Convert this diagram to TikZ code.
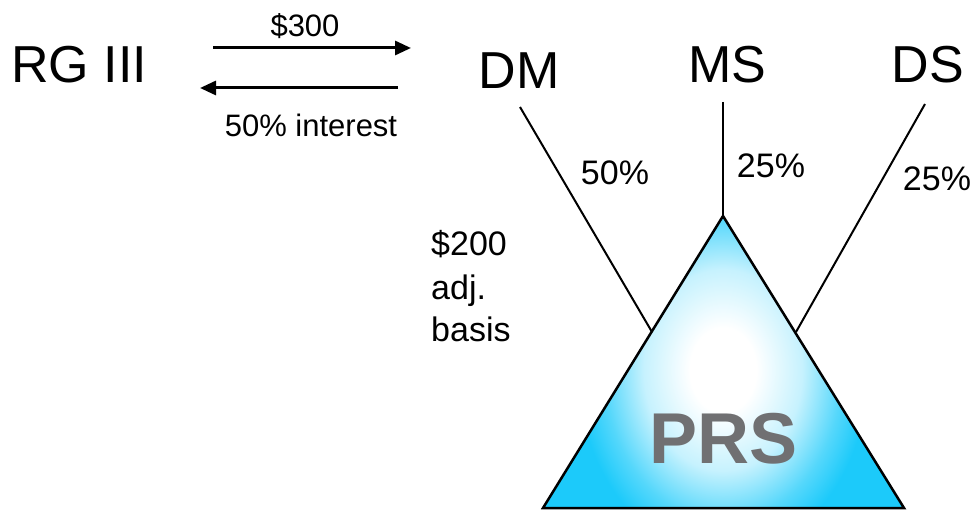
\documentclass[tikz,border=0pt]{standalone}
\usepackage{fontspec}
\setmainfont{Liberation Sans}
\usetikzlibrary{arrows.meta}
\definecolor{prscyan}{RGB}{28,202,250}
\definecolor{prsgray}{RGB}{112,112,114}
\pgfdeclareradialshading{prsglow}{\pgfpoint{0bp}{0bp}}{color(0bp)=(white); color(5bp)=(white); color(12bp)=(prscyan!25); color(18bp)=(prscyan!75); color(22bp)=(prscyan); color(50bp)=(prscyan)}
\tikzset{
  big/.style={inner sep=0pt, anchor=base, font=\fontsize{52}{62}\selectfont},
  mid/.style={inner sep=0pt, anchor=base, font=\fontsize{34}{43}\selectfont},
  small/.style={inner sep=0pt, anchor=base, font=\fontsize{31}{37}\selectfont},
  link/.style={line width=2pt, black},
  flow/.style={line width=3pt, -{Triangle[length=16pt,width=14pt]}},
}
\begin{document}
\begin{tikzpicture}[x=1pt,y=-1pt]
\useasboundingbox (0,0) rectangle (977,510);
% names
\node[big, anchor=base west] (rg) at (11,83) {RG III};
\node[big] (dm) at (519,89) {DM};
\node[big] (ms) at (727,83) {MS};
\node[big] (ds) at (928,83) {DS};
% arrows
\coordinate (a1s) at (213,48);
\coordinate (a1e) at (411,48);
\coordinate (a2s) at (398,88);
\coordinate (a2e) at (200,88);
\draw[flow] (a1s) -- (a1e);
\draw[flow] (a2s) -- (a2e);
\node[small] (p300) at (305,37) {\$300};
\node[small] (int) at (311,137) {50\% interest};
% triangle corners
\coordinate (apex) at (723,216);
\coordinate (bl) at (543,508);
\coordinate (br) at (904,508);
\coordinate (dmtop) at (520,107);
\coordinate (dmend) at (652,332);
\coordinate (mstop) at (723,102);
\coordinate (dstop) at (925,104);
\coordinate (dsend) at (796,332);
\draw[link] (dmtop) -- (dmend);
\draw[link] (mstop) -- (apex);
\draw[link] (dstop) -- (dsend);
% triangle
\fill[prscyan] (apex) -- (bl) -- (br) -- cycle;
\begin{scope}
\clip (apex) -- (bl) -- (br) -- cycle;
\shade[shading=prsglow] (558,160) rectangle (888,580);
\end{scope}
\draw[line width=2.5pt, line join=miter] (apex) -- (bl) -- (br) -- cycle;
\node[inner sep=0pt, anchor=base, font=\fontsize{72}{80}\selectfont\bfseries, text=prsgray] (prs) at (723.5,463) {PRS};
% percentages
\node[mid] (p50) at (615,185) {50\%};
\node[mid] (p25a) at (771,178) {25\%};
\node[mid] (p25b) at (937,191) {25\%};
% basis note
\node[mid, anchor=base west, align=left] (basis) at (431,342) {\$200\\adj.\\basis};
\end{tikzpicture}
\end{document}
